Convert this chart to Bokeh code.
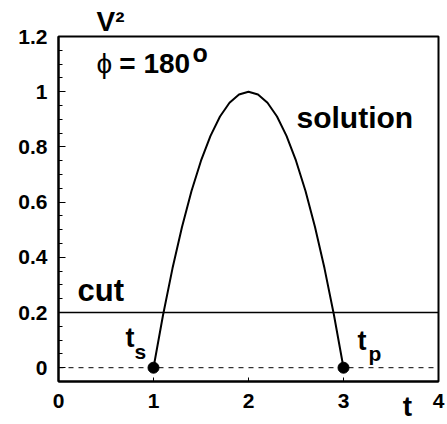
from bokeh.plotting import figure
from bokeh.models import Range1d, FixedTicker, NumeralTickFormatter, Span, Label
from bokeh.embed import file_html
from bokeh.resources import INLINE

# data
t_vals = [1.0, 1.1, 1.2, 1.3, 1.4, 1.5, 1.6, 1.7, 1.8, 1.9, 2.0,
          2.1, 2.2, 2.3, 2.4, 2.5, 2.6, 2.7, 2.8, 2.9, 3.0]
v2_vals = [0.0, 0.19, 0.36, 0.51, 0.64, 0.75, 0.84, 0.91, 0.96, 0.99, 1.0,
           0.99, 0.96, 0.91, 0.84, 0.75, 0.64, 0.51, 0.36, 0.19, 0.0]
end_t = [1.0, 3.0]
end_v2 = [0.0, 0.0]
cut_level = 0.2
zero_level = 0.0
x_ticks = [0, 1, 2, 3, 4]
y_ticks = [0, 0.2, 0.4, 0.6, 0.8, 1.0, 1.2]
y_minor = [round(0.05 * i, 2) for i in range(-1, 25)]
x_title = "t"
y_title = "V²"

FONT = "Liberation Sans"
YPX = 276.5  # px per y unit (for baseline correction)

p = figure(width=447, height=424, output_backend="svg", toolbar_location=None,
           x_range=Range1d(0, 4), y_range=Range1d(-0.05, 1.2),
           min_border_left=58, min_border_right=9, min_border_top=36,
           min_border_bottom=42)
p.grid.visible = False
p.outline_line_color = "black"
p.outline_line_width = 2
p.background_fill_color = "white"
p.border_fill_color = "white"

p.title.text = y_title
p.title.align = "left"
p.title.offset = 38
p.title.standoff = 0
p.title.text_font = FONT
p.title.text_font_size = "28px"
p.title.text_font_style = "bold"
p.title.text_color = "black"

for ax in (p.xaxis[0], p.yaxis[0]):
    ax.axis_line_width = 2
    ax.axis_line_color = "black"
    ax.major_tick_line_color = "black"
    ax.minor_tick_line_color = "black"
    ax.major_tick_out = 0
    ax.minor_tick_out = 0
    ax.major_label_text_font = FONT
    ax.major_label_text_font_style = "bold"
    ax.major_label_text_font_size = "21px"
    ax.major_label_text_color = "black"

p.xaxis.ticker = FixedTicker(ticks=x_ticks)
p.xaxis.major_tick_in = 4
p.xaxis.minor_tick_in = 0
p.xaxis.major_label_standoff = 12
p.xaxis.formatter = NumeralTickFormatter(format="0")
p.xaxis.axis_label = x_title + "\u00a0" * 8
p.xaxis.axis_label_align = "end"
p.xaxis.axis_label_standoff = -20
p.xaxis.axis_label_text_font = FONT
p.xaxis.axis_label_text_font_size = "28px"
p.xaxis.axis_label_text_font_style = "bold"
p.xaxis.axis_label_text_color = "black"

p.yaxis.ticker = FixedTicker(ticks=y_ticks, minor_ticks=y_minor)
p.yaxis.major_tick_in = 7
p.yaxis.minor_tick_in = 4
p.yaxis.major_label_standoff = 11
p.yaxis.formatter = NumeralTickFormatter(format="0.[0]")

p.add_layout(Span(location=zero_level, dimension="width", line_color="black",
                  line_width=1, line_dash="5 5"))
p.add_layout(Span(location=cut_level, dimension="width", line_color="black",
                  line_width=1.5))

p.line(t_vals, v2_vals, line_color="black", line_width=2)
p.scatter(end_t, end_v2, size=11, color="black")

def lab(text, x, y, size, bold=True):
    y_adj = y + 0.41 * size / YPX
    p.add_layout(Label(x=x, y=y_adj, text=text, text_font=FONT,
                       text_font_size=f"{size}px",
                       text_font_style="bold" if bold else "normal",
                       text_color="black", text_align="left",
                       text_baseline="alphabetic"))

lab("ϕ", 0.40, 1.0597, 28, bold=False)
lab("= 180", 0.64, 1.0597, 28)
lab("o", 1.41, 1.1025, 25)
lab("solution", 2.505, 0.8608, 30)
lab("cut", 0.20, 0.2351, 31)
lab("t", 0.705, 0.0687, 27)
lab("s", 0.80, 0.0289, 21)
lab("t", 3.147, 0.0579, 27)
lab("p", 3.263, 0.0217, 21)

open("out.html", "w").write(file_html(p, INLINE))
